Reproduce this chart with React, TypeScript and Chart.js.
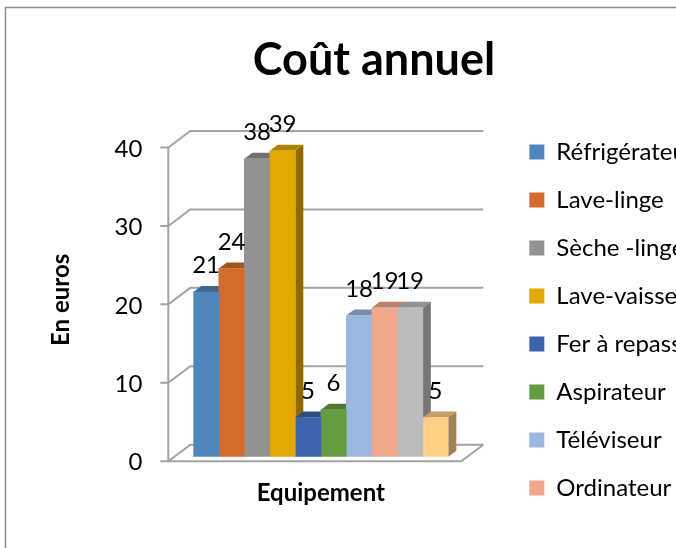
import React, { useEffect, useRef } from "react";
import { Chart, registerables } from "chart.js";

Chart.register(...registerables);

const FONT = "Lato, Carlito, Calibri, sans-serif";
const categories = ["Equipement"];
const names = ["Réfrigérateur", "Lave-linge", "Sèche -linge", "Lave-vaisselle", "Fer à repasser", "Aspirateur", "Téléviseur", "Ordinateur", "Console", "Autres"];
const values = [21, 24, 38, 39, 5, 6, 18, 19, 19, 5];
const colours = ["#4f87bd", "#d36c2a", "#929292", "#e3a900", "#3b64ad", "#659c42", "#9ab8df", "#f1a78a", "#bcbcbc", "#ffcf84"];
const legendCount = 8;

const DEPTH_X = 8;
const DEPTH_Y = 6;

function shade(hex: string, k: number) {
  const n = parseInt(hex.slice(1), 16);
  return `rgb(${((n >> 16) & 255) * k},${((n >> 8) & 255) * k},${(n & 255) * k})`;
}

const wallsAndDepth = {
  id: "wallsAndDepth",
  afterLayout(chart: any) {
    const lg = chart.legend;
    lg.left = chart.chartArea.right + 57;
    lg.right = chart.width;
    lg.top += 46;
    lg.bottom += 46;
  },
  beforeDraw(chart: any) {
    const { ctx } = chart;
    ctx.save();
    ctx.strokeStyle = "#8f8f8f";
    ctx.lineWidth = 1.5;
    ctx.beginPath();
    ctx.moveTo(5.5, chart.height);
    ctx.lineTo(5.5, 7.5);
    ctx.lineTo(chart.width, 7.5);
    ctx.stroke();
    ctx.restore();
  },
  beforeDatasetsDraw(chart: any) {
    const { ctx, chartArea, scales } = chart;
    const y = scales.y;
    const fx = chartArea.left - 25;
    const bx = chartArea.left - 3;
    const rx = chartArea.right + 35;
    const fo = 4.5;
    const bo = -12;
    ctx.save();
    ctx.strokeStyle = "#a3a3a3";
    ctx.lineWidth = 2;
    y.ticks.forEach((t: any) => {
      const p = y.getPixelForValue(t.value);
      ctx.beginPath();
      ctx.moveTo(fx - 8, p + fo);
      ctx.lineTo(fx, p + fo);
      ctx.lineTo(bx, p + bo);
      ctx.lineTo(rx, p + bo);
      ctx.stroke();
    });
    const p0 = y.getPixelForValue(0);
    const pMax = y.getPixelForValue(y.max);
    ctx.beginPath();
    ctx.moveTo(fx, pMax + fo);
    ctx.lineTo(fx, p0 + fo);
    ctx.lineTo(rx - 22, p0 + fo);
    ctx.lineTo(rx, p0 + bo);
    ctx.stroke();
    chart.data.datasets.forEach((ds: any, i: number) => {
      const bar = chart.getDatasetMeta(i).data[0];
      const c = ds.backgroundColor;
      const half = bar.width / 2;
      const l = bar.x - half;
      const r = bar.x + half;
      ctx.fillStyle = shade(c, 0.77);
      ctx.beginPath();
      ctx.moveTo(l, bar.y);
      ctx.lineTo(r, bar.y);
      ctx.lineTo(r + DEPTH_X, bar.y - DEPTH_Y);
      ctx.lineTo(l + DEPTH_X, bar.y - DEPTH_Y);
      ctx.closePath();
      ctx.fill();
      ctx.fillStyle = shade(c, 0.63);
      ctx.beginPath();
      ctx.moveTo(r, bar.y);
      ctx.lineTo(r + DEPTH_X, bar.y - DEPTH_Y);
      ctx.lineTo(r + DEPTH_X, bar.base - DEPTH_Y);
      ctx.lineTo(r, bar.base);
      ctx.closePath();
      ctx.fill();
    });
    ctx.restore();
  },
  afterDatasetsDraw(chart: any) {
    const { ctx } = chart;
    ctx.save();
    ctx.fillStyle = "#000";
    ctx.font = `24px ${FONT}`;
    ctx.textAlign = "center";
    ctx.textBaseline = "middle";
    chart.data.datasets.forEach((ds: any, i: number) => {
      const bar = chart.getDatasetMeta(i).data[0];
      ctx.fillText(String(ds.data[0]), bar.x, bar.y - 26.5);
    });
    ctx.restore();
  },
};

export default function App() {
  const ref = useRef<HTMLCanvasElement>(null);
  useEffect(() => {
    const chart = new Chart(ref.current!, {
      type: "bar",
      data: {
        labels: categories,
        datasets: names.map((label, i) => ({
          label,
          data: [values[i]],
          backgroundColor: colours[i],
          borderWidth: 0,
          barPercentage: 1,
          categoryPercentage: 1,
        })),
      },
      options: {
        responsive: false,
        animation: false,
        plugins: {
          tooltip: { enabled: false },
          title: {
            display: true,
            text: "Coût annuel",
            color: "#000",
            font: { family: FONT, size: 45, weight: "bold" },
            padding: { top: 33, bottom: 3 },
          },
          legend: {
            position: "right",
            fullSize: true,
            labels: {
              color: "#000",
              font: { family: FONT, size: 24 },
              boxWidth: 15,
              boxHeight: 15,
              padding: 24,
              filter: (item: any) => item.datasetIndex < legendCount,
            },
          },
        },
        scales: {
          x: {
            grid: { display: false },
            border: { display: false },
            ticks: { display: false },
            title: {
              display: true,
              text: "Equipement",
              color: "#000",
              font: { family: FONT, size: 24, weight: "bold" },
              padding: { top: 0, bottom: 40 },
            },
            afterFit: (s: any) => { s.height = 91.3; },
          },
          top: {
            position: "top",
            display: true,
            grid: { display: false },
            border: { display: false },
            ticks: { display: false },
            afterFit: (s: any) => { s.height = 53; },
          },
          y: {
            min: 0,
            max: 40,
            grid: { display: false },
            border: { display: false },
            ticks: {
              stepSize: 10,
              color: "#000",
              font: { family: FONT, size: 24 },
              padding: 43,
              labelOffset: 6,
            },
            title: {
              display: true,
              text: "En euros",
              color: "#000",
              font: { family: FONT, size: 24, weight: "bold" },
              padding: { top: 47, bottom: 0 },
            },
            afterFit: (s: any) => { s.width = 193.3; },
          },
          right: {
            position: "right",
            display: true,
            grid: { display: false },
            border: { display: false },
            ticks: { display: false },
            afterFit: (s: any) => { s.width = 175; },
          },
        },
      } as any,
      plugins: [wallsAndDepth],
    });
    return () => chart.destroy();
  }, []);
  return (
    <div style={{ position: "fixed", left: 0, top: 0, width: 676, height: 548, overflow: "hidden", background: "#fff" }}>
      <canvas ref={ref} width={748} height={548} style={{ display: "block" }} />
    </div>
  );
}
